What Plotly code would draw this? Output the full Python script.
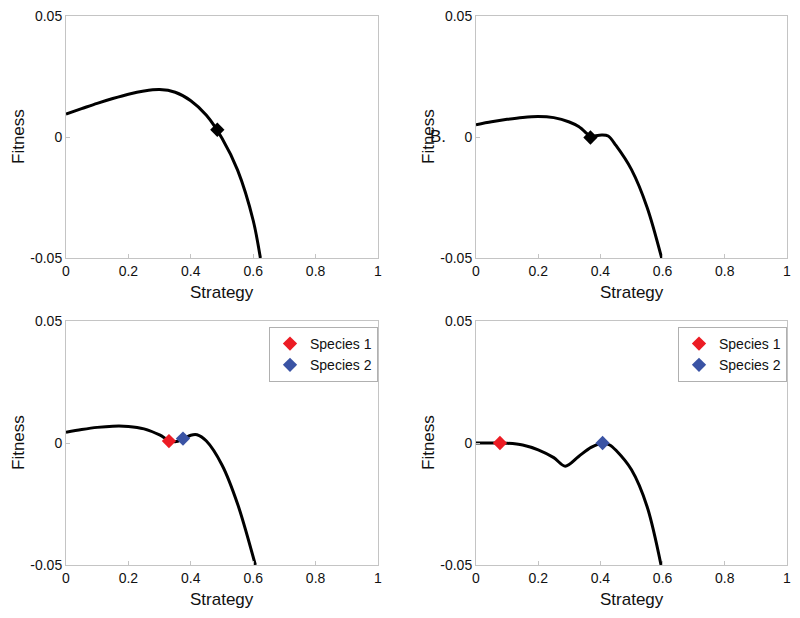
import plotly.graph_objects as go

# strategy / fitness
strat_a = [0, 0.05, 0.1, 0.15, 0.2, 0.25, 0.3, 0.35, 0.4, 0.45, 0.5, 0.55, 0.6, 0.623]
fit_a = [0.0095, 0.0117, 0.0139, 0.0159, 0.0177, 0.019, 0.0196, 0.0185, 0.015,
         0.009, -0.0005, -0.0137, -0.0345, -0.05]
mark_a = (0.485, 0.003)

strat_b = [0, 0.05, 0.1, 0.15, 0.2, 0.25, 0.3, 0.33, 0.355, 0.368, 0.385, 0.405,
           0.425, 0.45, 0.5, 0.55, 0.597]
fit_b = [0.0051, 0.0063, 0.0073, 0.0081, 0.0085, 0.008, 0.0062, 0.0043, 0.0016,
         0.0, 0.0005, 0.0008, 0.0004, -0.0035, -0.0135, -0.029, -0.05]
mark_b = (0.368, -0.0002)

strat_c = [0, 0.05, 0.1, 0.15, 0.2, 0.25, 0.3, 0.33, 0.35, 0.375, 0.4, 0.42,
           0.45, 0.5, 0.55, 0.607]
fit_c = [0.0044, 0.0055, 0.0064, 0.0069, 0.0068, 0.0058, 0.0033, 0.0011, 0.0005,
         0.0016, 0.0032, 0.0034, 0.0008, -0.009, -0.025, -0.05]
sp1_c = (0.33, 0.0008)
sp2_c = (0.375, 0.0018)

strat_d = [0, 0.05, 0.1, 0.15, 0.2, 0.25, 0.287, 0.33, 0.37, 0.407, 0.43, 0.45,
           0.5, 0.55, 0.595]
fit_d = [0, 0, -0.0001, -0.0008, -0.0028, -0.006, -0.0095, -0.0055, -0.0018,
         0, -0.0008, -0.003, -0.011, -0.026, -0.05]
sp1_d = (0.077, 0.0)
sp2_d = (0.407, 0.0)

x_ticks = [0, 0.2, 0.4, 0.6, 0.8, 1]
x_labels = ['0', '0.2', '0.4', '0.6', '0.8', '1']
y_ticks = [-0.05, 0, 0.05]
y_labels = ['-0.05', '0', '0.05']

RED = '#ec1c24'
BLUE = '#3a53a4'
FONT = 'Liberation Sans, Arial, sans-serif'

fig = go.Figure()


def curve(x, y, n):
    fig.add_trace(go.Scatter(x=x, y=y, mode='lines', line=dict(color='black', width=3, shape='spline', smoothing=0.9),
                             xaxis='x' + n, yaxis='y' + n, showlegend=False, hoverinfo='skip'))


def dot(pt, n, color, name=None, legend=None):
    fig.add_trace(go.Scatter(x=[pt[0]], y=[pt[1]], mode='markers', name=name,
                             marker=dict(symbol='diamond', size=11, color=color),
                             xaxis='x' + n, yaxis='y' + n,
                             showlegend=name is not None, legend=legend))


curve(strat_a, fit_a, '')
dot(mark_a, '', 'black')
curve(strat_b, fit_b, '2')
dot(mark_b, '2', 'black')
curve(strat_c, fit_c, '3')
dot(sp1_c, '3', RED, 'Species 1', 'legend')
dot(sp2_c, '3', BLUE, 'Species 2', 'legend')
curve(strat_d, fit_d, '4')
dot(sp1_d, '4', RED, 'Species 1', 'legend2')
dot(sp2_d, '4', BLUE, 'Species 2', 'legend2')

# page body has an 8px margin, so the figure is drawn 8px in from the corner
OFF = 8
W, H = 800 - 2 * OFF, 618 - 2 * OFF


def px(x):
    return (x - OFF) / W


def py(y):
    return 1 - (y - OFF) / H


panels = {'': (66, 378, 16, 258), '2': (476, 787, 16, 258),
          '3': (66, 378, 321, 565), '4': (476, 787, 321, 565)}

axis_common = dict(showline=True, mirror=True, linecolor='#c4c4c4', linewidth=1,
                   ticks='inside', ticklen=4, tickcolor='#c4c4c4', showgrid=False,
                   zeroline=False, automargin=False, ticklabeloverflow='allow',
                   tickfont=dict(family=FONT, size=14, color='#111'))
layout = {}
for n, (l, r, t, b) in panels.items():
    layout['xaxis' + n] = dict(axis_common, domain=[px(l), px(r)], range=[0, 1],
                               tickvals=x_ticks, ticktext=x_labels,
                               anchor='y' + n)
    layout['yaxis' + n] = dict(axis_common, domain=[py(b), py(t)], range=[-0.05, 0.05],
                               tickvals=y_ticks, ticktext=y_labels,
                               anchor='x' + n)
fig.update_layout(**layout)

# axis titles as annotations so they sit where the originals do
ann = []
title_font = dict(family=FONT, size=17, color='#111')
for n, (l, r, t, b) in panels.items():
    ann.append(dict(text='Strategy', x=px((l + r) / 2), y=py(b + 34), xref='paper', yref='paper',
                    xanchor='center', yanchor='middle', showarrow=False, font=title_font))
    ann.append(dict(text='Fitness', x=px(l - 48), y=py((t + b) / 2), xref='paper', yref='paper',
                    xanchor='center', yanchor='middle', textangle=-90, showarrow=False,
                    font=title_font))
ann.append(dict(text='B.', x=px(438), y=py(136), xref='paper', yref='paper',
                xanchor='center', yanchor='middle', showarrow=False, font=title_font))

legend_style = dict(font=dict(family=FONT, size=14, color='#111'), bgcolor='white',
                    bordercolor='#b0b0b0', borderwidth=1, xanchor='right', yanchor='top',
                    tracegroupgap=0, itemwidth=30)

fig.update_layout(
    width=W, height=H,
    margin=dict(l=0, r=0, t=0, b=0),
    paper_bgcolor='white', plot_bgcolor='white',
    annotations=ann,
    legend=dict(legend_style, x=px(378), y=py(327)),
    legend2=dict(legend_style, x=px(787), y=py(327)),
)

fig.write_html("out.html")
